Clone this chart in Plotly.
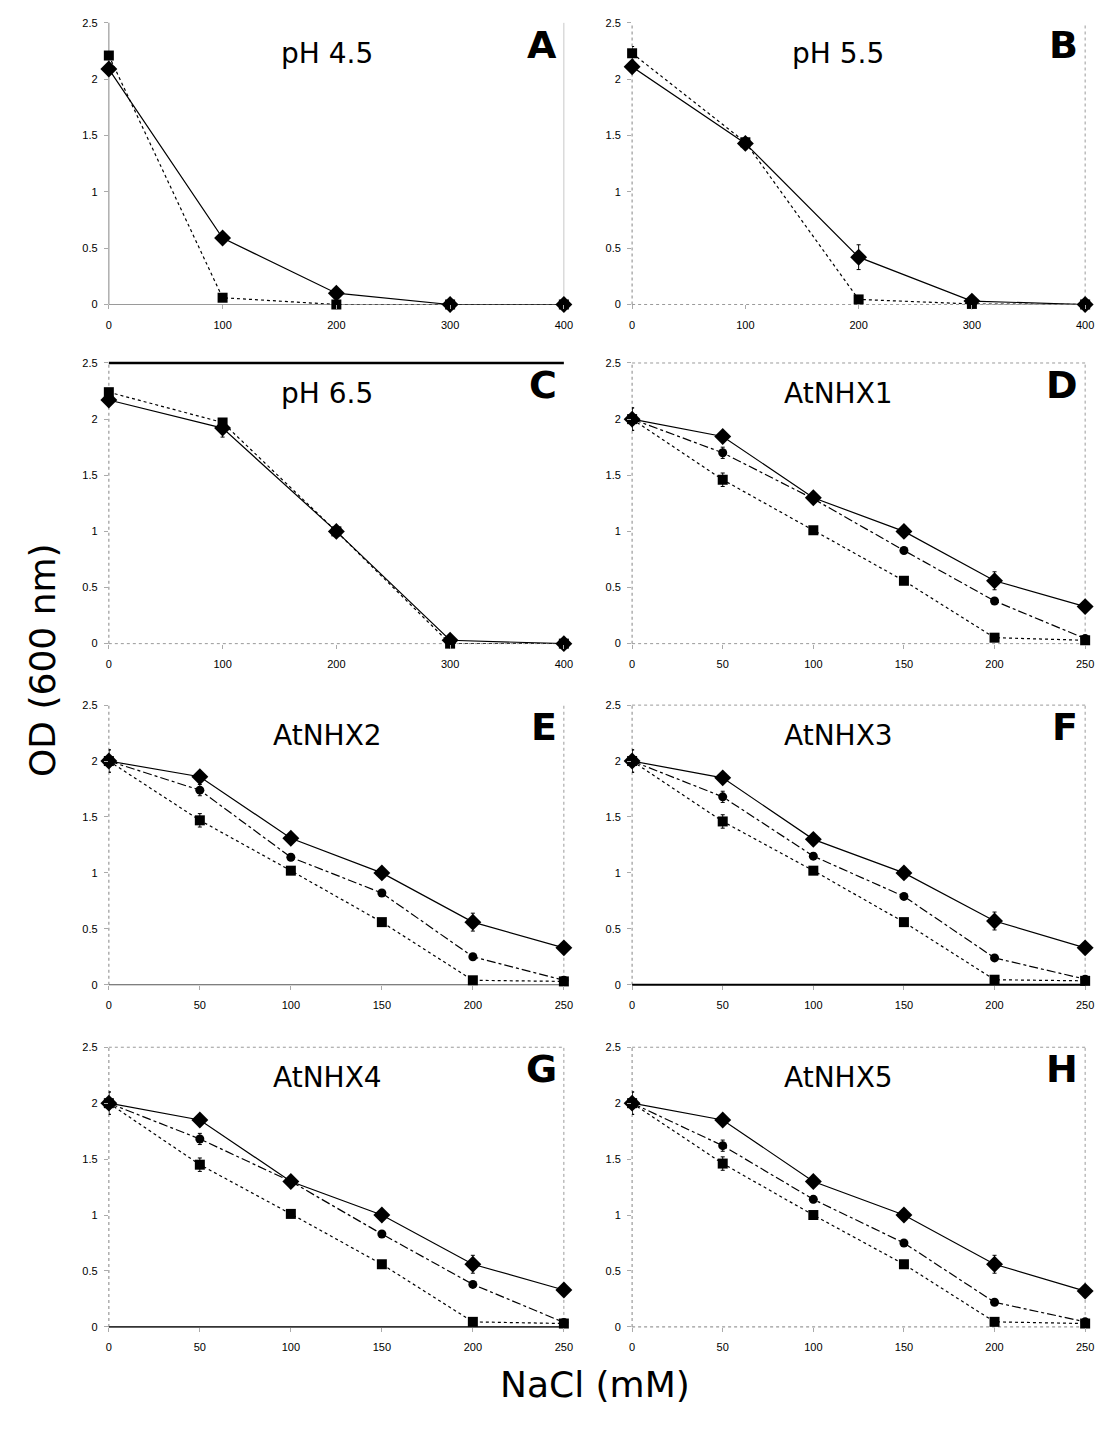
import plotly.graph_objects as go

W, H = 1108, 1438

# ---------------- data ----------------
panel_letters = ["A", "B", "C", "D", "E", "F", "G", "H"]
panel_titles = ["pH 4.5", "pH 5.5", "pH 6.5", "AtNHX1", "AtNHX2", "AtNHX3", "AtNHX4", "AtNHX5"]

nacl_ph = [0, 100, 200, 300, 400]
nacl_nhx = [0, 50, 100, 150, 200, 250]

# pH panels: diamond (solid) and square (dotted)
ph45_diamond = [2.09, 0.59, 0.10, 0.0, 0.0]
ph45_square = [2.21, 0.06, 0.0, 0.0, 0.0]
ph55_diamond = [2.11, 1.43, 0.42, 0.03, 0.0]
ph55_square = [2.23, 1.44, 0.045, 0.005, 0.0]
ph65_diamond = [2.17, 1.92, 1.00, 0.03, 0.0]
ph65_square = [2.24, 1.97, 1.00, 0.0, 0.0]

ph45_diamond_err = [0.03, 0.03, 0.02, 0.0, 0.0]
ph45_square_err = [0.03, 0.02, 0.0, 0.0, 0.0]
ph55_diamond_err = [0.04, 0.03, 0.11, 0.01, 0.0]
ph55_square_err = [0.06, 0.03, 0.01, 0.0, 0.0]
ph65_diamond_err = [0.03, 0.08, 0.03, 0.02, 0.0]
ph65_square_err = [0.03, 0.02, 0.03, 0.0, 0.0]

# AtNHX panels: diamond (solid), circle (dash-dot), square (dotted)
nhx1_diamond = [2.0, 1.845, 1.30, 1.00, 0.56, 0.33]
nhx1_circle = [2.0, 1.70, 1.29, 0.83, 0.38, 0.045]
nhx1_square = [2.0, 1.46, 1.01, 0.56, 0.053, 0.03]

nhx2_diamond = [2.0, 1.86, 1.31, 1.00, 0.56, 0.33]
nhx2_circle = [2.0, 1.74, 1.14, 0.82, 0.25, 0.04]
nhx2_square = [2.0, 1.47, 1.02, 0.56, 0.04, 0.03]

nhx3_diamond = [2.0, 1.85, 1.30, 1.00, 0.57, 0.33]
nhx3_circle = [2.0, 1.68, 1.15, 0.79, 0.24, 0.05]
nhx3_square = [2.0, 1.46, 1.02, 0.56, 0.045, 0.035]

nhx4_diamond = [2.0, 1.85, 1.30, 1.00, 0.56, 0.33]
nhx4_circle = [2.0, 1.68, 1.30, 0.83, 0.38, 0.04]
nhx4_square = [2.0, 1.45, 1.01, 0.56, 0.045, 0.03]

nhx5_diamond = [2.0, 1.85, 1.30, 1.00, 0.56, 0.32]
nhx5_circle = [2.0, 1.62, 1.14, 0.75, 0.22, 0.045]
nhx5_square = [2.0, 1.46, 1.00, 0.56, 0.045, 0.03]

nhx_diamond_err = [0.10, 0.03, 0.03, 0.03, 0.08, 0.02]
nhx_circle_err = [0.10, 0.05, 0.03, 0.02, 0.02, 0.02]
nhx_square_err = [0.05, 0.06, 0.03, 0.02, 0.02, 0.01]

y_ticks = [0, 0.5, 1, 1.5, 2, 2.5]
x_ticks_ph = [0, 100, 200, 300, 400]
x_ticks_nhx = [0, 50, 100, 150, 200, 250]

panels = [
    (nacl_ph, [("square", ph45_square, ph45_square_err), ("diamond", ph45_diamond, ph45_diamond_err)]),
    (nacl_ph, [("square", ph55_square, ph55_square_err), ("diamond", ph55_diamond, ph55_diamond_err)]),
    (nacl_ph, [("square", ph65_square, ph65_square_err), ("diamond", ph65_diamond, ph65_diamond_err)]),
    (nacl_nhx, [("square", nhx1_square, nhx_square_err), ("circle", nhx1_circle, nhx_circle_err), ("diamond", nhx1_diamond, nhx_diamond_err)]),
    (nacl_nhx, [("square", nhx2_square, nhx_square_err), ("circle", nhx2_circle, nhx_circle_err), ("diamond", nhx2_diamond, nhx_diamond_err)]),
    (nacl_nhx, [("square", nhx3_square, nhx_square_err), ("circle", nhx3_circle, nhx_circle_err), ("diamond", nhx3_diamond, nhx_diamond_err)]),
    (nacl_nhx, [("square", nhx4_square, nhx_square_err), ("circle", nhx4_circle, nhx_circle_err), ("diamond", nhx4_diamond, nhx_diamond_err)]),
    (nacl_nhx, [("square", nhx5_square, nhx_square_err), ("circle", nhx5_circle, nhx_circle_err), ("diamond", nhx5_diamond, nhx_diamond_err)]),
]

# ---------------- styles / layout ----------------
style = {
    "square": dict(dash="dot", size=10, sym="square"),
    "circle": dict(dash="dashdot", size=9, sym="circle"),
    "diamond": dict(dash="solid", size=13, sym="diamond"),
}

col_px = [(107, 567), (636, 1094)]
col_title_frac = [0.48, 0.455]
row_px = [(17, 301), (360, 643), (705, 987), (1050, 1332)]

G = "#9a9a9a"
# per-panel border styling: side -> (color, width, dash)
borders = [
    {"left": (G, 1.2, "solid"), "bottom": (G, 1.2, "solid"), "right": ("#c8c8c8", 1, "solid")},
    {"left": (G, 1.2, "dot"), "bottom": (G, 1, "dot"), "right": (G, 1, "dot")},
    {"left": (G, 1.2, "dot"), "bottom": (G, 1, "dot"), "top": ("black", 2.5, "solid")},
    {"left": (G, 1.2, "dot"), "bottom": (G, 1, "dot"), "right": (G, 1, "dot"), "top": (G, 1, "dot")},
    {"left": (G, 1.2, "dot"), "bottom": ("#555", 1.2, "solid"), "right": (G, 1, "dot")},
    {"left": (G, 1.2, "dot"), "bottom": ("black", 2, "solid"), "right": (G, 1, "dot"), "top": (G, 1, "dot")},
    {"left": (G, 1.2, "dot"), "bottom": ("#333", 1.6, "solid"), "right": (G, 1, "dot"), "top": (G, 1, "dot")},
    {"left": (G, 1.2, "dot"), "bottom": (G, 1.2, "dot"), "right": (G, 1, "dot"), "top": (G, 1, "dot")},
]

fig = go.Figure()
shapes = []
annotations = []

for i, (xs, series) in enumerate(panels):
    r, c = divmod(i, 2)
    x0p, x1p = col_px[c]
    y0p, y1p = row_px[r]
    xd = [x0p / W, x1p / W]
    yd = [1 - y1p / H, 1 - y0p / H]
    n = i + 1
    xa = "x" if n == 1 else f"x{n}"
    ya = "y" if n == 1 else f"y{n}"
    xkey = "xaxis" if n == 1 else f"xaxis{n}"
    ykey = "yaxis" if n == 1 else f"yaxis{n}"

    for kind, vals, errs in series:
        st = style[kind]
        fig.add_trace(go.Scatter(
            x=xs, y=vals, xaxis=xa, yaxis=ya, mode="lines+markers",
            line=dict(color="black", width=1.2, dash=st["dash"]),
            marker=dict(symbol=st["sym"], size=st["size"], color="black"),
            error_y=dict(type="data", array=errs, visible=True, color="black", thickness=1, width=2),
            cliponaxis=False, showlegend=False,
        ))

    xt = x_ticks_ph if len(xs) == 5 else x_ticks_nhx
    fig.layout[xkey] = dict(
        domain=xd, anchor=ya, range=[xt[0], xt[-1]], tickvals=xt,
        showline=False, showgrid=False, zeroline=False,
        ticks="outside", ticklen=4, tickcolor="#aaaaaa",
        tickfont=dict(family="Liberation Sans, Arial", size=11, color="black"),
        ticklabelstandoff=6,
    )
    fig.layout[ykey] = dict(
        domain=yd, anchor=xa, range=[0, 2.5], tickvals=y_ticks,
        showline=False, showgrid=False, zeroline=False,
        ticks="outside", ticklen=4, tickcolor="#aaaaaa",
        tickfont=dict(family="Liberation Sans, Arial", size=11, color="black"),
        ticklabelstandoff=4,
    )

    for side, (col, wd, dash) in borders[i].items():
        if side == "left":
            sx0, sx1, sy0, sy1 = xd[0], xd[0], yd[0], yd[1]
        elif side == "right":
            sx0, sx1, sy0, sy1 = xd[1], xd[1], yd[0], yd[1]
        elif side == "bottom":
            sx0, sx1, sy0, sy1 = xd[0], xd[1], yd[0], yd[0]
        else:
            sx0, sx1, sy0, sy1 = xd[0], xd[1], yd[1], yd[1]
        shapes.append(dict(type="line", xref="paper", yref="paper",
                           x0=sx0, x1=sx1, y0=sy0, y1=sy1, layer="below",
                           line=dict(color=col, width=wd, dash=dash)))

    annotations.append(dict(
        text=panel_titles[i], xref="paper", yref="paper",
        x=(x0p + col_title_frac[c] * (x1p - x0p)) / W, y=1 - (y0p + 31) / H,
        xanchor="center", yanchor="middle", showarrow=False,
        font=dict(family="DejaVu Sans", size=28, color="black"),
    ))
    annotations.append(dict(
        text=f"<b>{panel_letters[i]}</b>", xref="paper", yref="paper",
        x=(x1p - 5) / W, y=1 - (y0p + 22) / H,
        xanchor="right", yanchor="middle", showarrow=False,
        font=dict(family="DejaVu Sans", size=38, color="black"),
    ))

annotations.append(dict(
    text="OD (600 nm)", xref="paper", yref="paper", x=40 / W, y=1 - 660 / H,
    textangle=-90, xanchor="center", yanchor="middle", showarrow=False,
    font=dict(family="DejaVu Sans", size=36, color="black"),
))
annotations.append(dict(
    text="NaCl (mM)", xref="paper", yref="paper", x=598 / W, y=1 - 1390 / H,
    xanchor="center", yanchor="middle", showarrow=False,
    font=dict(family="DejaVu Sans", size=36, color="black"),
))

fig.update_layout(
    width=W, height=H, margin=dict(l=0, r=0, t=0, b=0),
    paper_bgcolor="white", plot_bgcolor="white",
    shapes=shapes, annotations=annotations, showlegend=False,
)

fig.write_html(
    "out.html",
    config={"displayModeBar": False},
    post_script="document.body.style.margin='0';document.body.style.padding='0';document.body.style.overflow='hidden';",
)
